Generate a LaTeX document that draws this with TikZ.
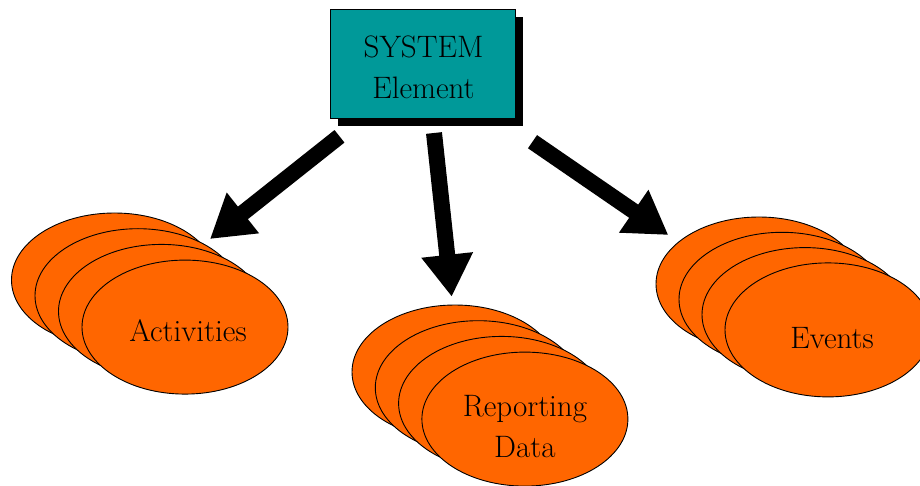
\documentclass[tikz,border=0pt]{standalone}
\usepackage{fontspec}
\usetikzlibrary{shapes.geometric,arrows.meta,shadows}

\definecolor{systeal}{HTML}{009999}
\definecolor{stackorange}{HTML}{FF6600}

\tikzset{
	sysbox/.style={draw=black,line width=0.8pt,fill=systeal,minimum width=185pt,minimum height=109pt,inner sep=0pt,
		drop shadow={shadow xshift=8pt,shadow yshift=-8pt,fill=black,opacity=1}},
	stackell/.style={ellipse,draw=black,line width=0.9pt,fill=stackorange,minimum width=206pt,minimum height=134pt,inner sep=0pt},
	stacktext/.style={align=center,inner sep=0pt},
	bigarrow/.style={line width=16pt,-{Triangle[length=42pt,width=49pt]}}
}

\begin{document}
\begin{tikzpicture}[x=1pt,y=-1pt,font=\fontsize{31}{41}\selectfont]
	\useasboundingbox (0,0) rectangle (920,486);

	\node[sysbox] (sys) at (422.5,63.5) {};
	\node[stacktext] (systext) at ([xshift=1pt,yshift=-4pt]sys.center) {SYSTEM\\Element};

	% stacks of ellipses, back to front
	\foreach \i in {0,...,3} {
		\node[stackell] (act\i) at (114.5+23.5*\i,280+15.7*\i) {};
		\node[stackell] (rep\i) at (455+23.3*\i,372+15.7*\i) {};
		\node[stackell] (evt\i) at (759+23*\i,284+15.3*\i) {};
	}
	\node[stacktext] (acttext) at ([xshift=3pt,yshift=-4pt]act3.center) {Activities};
	\node[stacktext] (reptext) at ([yshift=-7pt]rep3.center) {Reporting\\Data};
	\node[stacktext] (evttext) at ([xshift=4pt,yshift=-8pt]evt3.center) {Events};

	% arrows
	\coordinate (a1s) at (339.5,136.3);
	\coordinate (a1e) at (210,239);
	\coordinate (a2s) at (434,133);
	\coordinate (a2e) at (451.7,296.7);
	\coordinate (a3s) at (532.5,141.7);
	\coordinate (a3e) at (668.3,235);
	\draw[bigarrow] (a1s) -- (a1e);
	\draw[bigarrow] (a2s) -- (a2e);
	\draw[bigarrow] (a3s) -- (a3e);
\end{tikzpicture}
\end{document}
